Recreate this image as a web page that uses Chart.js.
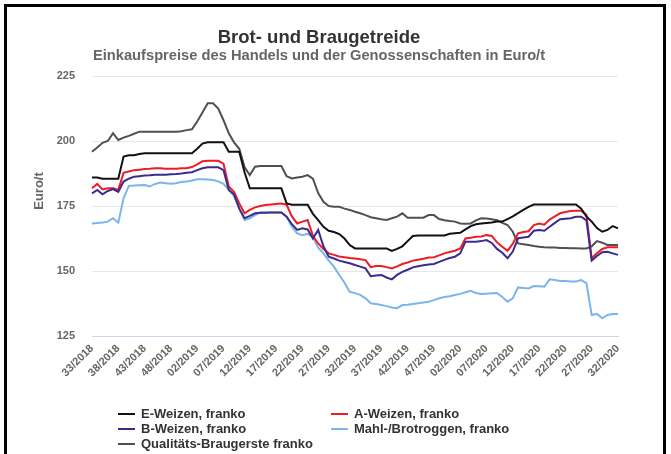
<!DOCTYPE html>
<html><head><meta charset="utf-8">
<script src="https://cdn.jsdelivr.net/npm/chart.js@4/dist/chart.umd.min.js"></script>
<style>
html,body{margin:0;padding:0;background:#fff;}
#wrap{position:relative;width:671px;height:454px;overflow:hidden;background:#fff;}
#frame{position:absolute;left:4px;top:4px;width:662px;height:480px;border:3px solid #000;box-sizing:border-box;pointer-events:none;}
canvas{position:absolute;left:0;top:0;}
#legend{position:absolute;left:0;top:0;width:671px;height:454px;font-family:"Liberation Sans",Arial,sans-serif;font-weight:bold;font-size:13px;color:#333;}
.item{position:absolute;white-space:nowrap;line-height:15px;}
.sym{position:absolute;height:2px;width:17px;}
#ytitle{position:absolute;left:38px;top:191px;transform:translate(-50%,-50%) rotate(-90deg);font-family:"Liberation Sans",Arial,sans-serif;font-weight:bold;font-size:13px;color:#666;white-space:nowrap;}
</style></head>
<body><div id="wrap"><canvas id="c" width="671" height="454"></canvas><div id="legend"></div><div id="ytitle"></div><div id="frame"></div></div>
<script>
const labels = [
 "33/2018","34/2018","35/2018","36/2018","37/2018","38/2018","39/2018","40/2018","41/2018","42/2018",
 "43/2018","44/2018","45/2018","46/2018","47/2018","48/2018","49/2018","50/2018","51/2018","52/2018",
 "02/2019","03/2019","04/2019","05/2019","06/2019","07/2019","08/2019","09/2019","10/2019","11/2019",
 "12/2019","13/2019","14/2019","15/2019","16/2019","17/2019","18/2019","19/2019","20/2019","21/2019",
 "22/2019","23/2019","24/2019","25/2019","26/2019","27/2019","28/2019","29/2019","30/2019","31/2019",
 "32/2019","33/2019","34/2019","35/2019","36/2019","37/2019","38/2019","39/2019","40/2019","41/2019",
 "42/2019","43/2019","44/2019","45/2019","46/2019","47/2019","48/2019","49/2019","50/2019","51/2019",
 "02/2020","03/2020","04/2020","05/2020","06/2020","07/2020","08/2020","09/2020","10/2020","11/2020",
 "12/2020","13/2020","14/2020","15/2020","16/2020","17/2020","18/2020","19/2020","20/2020","21/2020",
 "22/2020","23/2020","24/2020","25/2020","26/2020","27/2020","28/2020","29/2020","30/2020","31/2020",
 "32/2020"
];

const eWeizen = [
 186,186,185.5,185.5,185.5,185.5,194,194.5,194.5,195,
 195.3,195.3,195.3,195.3,195.3,195.3,195.3,195.3,195.3,195.3,
 197,199,199.5,199.5,199.5,199.5,195.9,195.9,195.9,188,
 181.8,181.8,181.8,181.8,181.8,181.8,181.8,176,175.5,175.5,
 175.5,175.5,172,169.6,167,165.5,165,164.2,162.5,160,
 158.7,158.7,158.7,158.7,158.7,158.7,158.7,157.7,158.5,159.5,
 161.5,163.5,163.7,163.7,163.7,163.7,163.7,163.7,164.3,164.5,
 164.7,166,167.3,168,168.3,168.5,168.7,169,169,170,
 171,172.3,173.5,174.7,175.6,175.6,175.6,175.6,175.6,175.6,
 175.6,175.6,175.6,174,171,169,166.5,165.1,165.8,167.3,
 166.4
];

const aWeizen = [
 181.8,183.5,181.4,181.8,181.8,181.2,187.8,188.3,188.8,189,
 189.2,189.3,189.5,189.5,189.3,189.3,189.3,189.5,189.5,190,
 191,192.2,192.4,192.4,192.4,191.3,182.5,180.5,176,172.2,
 173.5,174.5,175,175.4,175.6,175.8,176,175.5,171,168.3,
 169,169.6,163.5,160.6,158.5,156.8,156.2,155.6,155.3,155,
 154.8,154.5,154.2,151.5,151.9,151.9,151.5,151,151.8,152.7,
 153.3,154,154.3,154.7,155.2,155.3,156,156.8,157.3,157.8,
 158.7,162.5,162.8,163.2,163.3,163.8,163.5,161,159.3,157.8,
 160.5,164.5,165,165.3,167.7,168.3,167.8,169.8,171,172.2,
 172.7,173.1,173.2,173.2,171.5,154.9,156.8,158.5,159.1,159.1,
 159.1
];

const bWeizen = [
 179.9,181.2,179.5,180.8,181.5,180.4,184.4,185.5,186.3,186.5,
 186.7,186.8,187,187,187,187.2,187.3,187.5,187.8,188,
 188.8,189.5,189.9,189.9,189.9,188.8,181.2,179.5,174,170.3,
 171.2,172.2,172.4,172.4,172.5,172.5,172.5,170.9,168,165.8,
 166.4,166,162.5,165.8,159.5,155.5,154.8,154,153.5,153,
 152.3,151.7,151,148,148.3,148.5,147.5,146.8,148.5,149.7,
 150.5,151.4,151.8,152.2,152.5,152.7,153.5,154.3,155,155.5,
 156.8,161.3,161.3,161.3,161.5,161.9,160.8,158.5,157,154.9,
 157.5,162.6,162.9,163.2,165.5,165.8,165.5,167,168.5,169.9,
 170.1,170.3,170.9,170.9,169.5,154,155.8,157.2,157.4,156.8,
 156.2
];

const roggen = [
 168.3,168.5,168.7,169,170.3,168.6,178,182.7,182.9,183,
 183.1,182.5,183.5,184,183.8,183.6,183.8,184.2,184.4,184.8,
 185.3,185.3,185.2,185,184.5,183.5,181.2,178.8,174,169.6,
 170.3,171.5,172.5,172.5,172.5,172.5,172.5,170.9,167,164.5,
 163.8,164.3,163,159,156.8,154,151.7,148.5,145.5,142,
 141.5,140.8,139.5,137.6,137.3,136.9,136.5,136,135.7,136.9,
 137,137.3,137.6,137.9,138.2,138.8,139.5,140,140.3,140.8,
 141.2,141.8,142.4,141.5,141.2,141.3,141.4,141.5,140,138.2,
 139.5,143.7,143.5,143.3,144.2,144.1,144,146.8,146.5,146.2,
 146.2,146,146,146.5,145.3,133.1,133.5,131.8,133.1,133.5,
 133.5
];

const braugerste = [
 195.9,197.5,199.3,200,203,200.4,201.3,202,202.8,203.6,
 203.6,203.6,203.6,203.6,203.6,203.6,203.6,203.8,204.2,204.5,
 207.5,211,214.5,214.5,212.5,208,203,199.5,197,190,
 186.9,190.1,190.4,190.4,190.4,190.4,190.4,186.5,185.6,186,
 186.3,186.9,185.5,180,176.6,175,174.7,174.7,174,173.5,
 172.8,172.2,171.5,170.7,170.3,169.9,169.6,170.3,170.9,172.2,
 170.5,170.5,170.5,170.5,171.5,171.5,170,169.5,169.2,169,
 168.3,168.2,168.3,169.5,170.3,170.2,169.9,169.5,168.5,167.7,
 165.1,160.6,160.3,160,159.6,159.3,159.1,159,159,158.9,
 158.9,158.8,158.8,158.7,158.7,159.5,161.5,160.9,160,160,
 160
];

const yTicks = [125, 150, 175, 200, 225];
const yTitle = "Euro/t";

const series = [
  {name: "E-Weizen, franko", data: eWeizen, color: "#111111"},
  {name: "A-Weizen, franko", data: aWeizen, color: "#ee1c25"},
  {name: "B-Weizen, franko", data: bWeizen, color: "#3c2b8e"},
  {name: "Mahl-/Brotroggen, franko", data: roggen, color: "#7cb5ec"},
  {name: "Qualitäts-Braugerste franko", data: braugerste, color: "#505050"}
];

// draw order: black on top, then purple, red, blue, grey
const drawOrder = [0, 2, 1, 3, 4];

const FONT = "'Liberation Sans', Arial, sans-serif";

new Chart(document.getElementById('c'), {
  type: 'line',
  data: {
    labels: labels,
    datasets: drawOrder.map(i => ({
      label: series[i].name,
      data: series[i].data,
      borderColor: series[i].color,
      backgroundColor: series[i].color,
      borderWidth: 2,
      pointRadius: 0,
      tension: 0,
      fill: false
    }))
  },
  options: {
    responsive: false,
    animation: false,
    layout: {padding: {left: 20, right: 53, top: 28, bottom: 48}},
    plugins: {
      legend: {display: false},
      tooltip: {enabled: false},
      title: {
        display: true,
        text: "Brot- und Braugetreide",
        color: "#333333",
        font: {family: FONT, size: 18.5, weight: 'bold', lineHeight: 1.1},
        padding: {top: 0, bottom: 0}
      },
      subtitle: {
        display: true,
        text: "Einkaufspreise des Handels und der Genossenschaften in Euro/t",
        color: "#666666",
        font: {family: FONT, size: 14.7, weight: 'bold', lineHeight: 1.0},
        padding: {top: 0, bottom: 13}
      }
    },
    scales: {
      x: {
        offset: false,
        grid: {display: false, drawTicks: false},
        border: {display: true, color: "#ccd6eb", width: 1},
        ticks: {
          autoSkip: false,
          minRotation: 45,
          maxRotation: 45,
          padding: 6,
          color: "#666666",
          font: {family: FONT, size: 11, weight: 'bold'},
          callback: function(val, idx) { return idx % 5 === 0 ? labels[idx] : null; }
        },
        afterFit: function(scale) { scale.height = 70; }
      },
      y: {
        min: yTicks[0],
        max: yTicks[yTicks.length - 1],
        afterBuildTicks: function(scale) { scale.ticks = yTicks.map(v => ({value: v})); },
        grid: {color: "#e6e6e6", drawTicks: false, lineWidth: 1},
        border: {display: false},
        ticks: {
          padding: 17,
          color: "#666666",
          font: {family: FONT, size: 11, weight: 'bold'}
        },
        afterFit: function(scale) { scale.width = 72; }
      }
    }
  }
});

document.getElementById('ytitle').textContent = yTitle;

// HTML legend, two columns like the reference
const legendPos = [
  {x: 118, y: 414}, {x: 331, y: 414},
  {x: 118, y: 429}, {x: 331, y: 429},
  {x: 118, y: 444}
];
const leg = document.getElementById('legend');
series.forEach((s, i) => {
  const p = legendPos[i];
  const sym = document.createElement('div');
  sym.className = 'sym';
  sym.style.left = p.x + 'px';
  sym.style.top = (p.y - 1) + 'px';
  sym.style.background = s.color;
  leg.appendChild(sym);
  const t = document.createElement('div');
  t.className = 'item';
  t.style.left = (p.x + 23) + 'px';
  t.style.top = (p.y - 8) + 'px';
  t.textContent = s.name;
  leg.appendChild(t);
});
</script>
</body></html>
